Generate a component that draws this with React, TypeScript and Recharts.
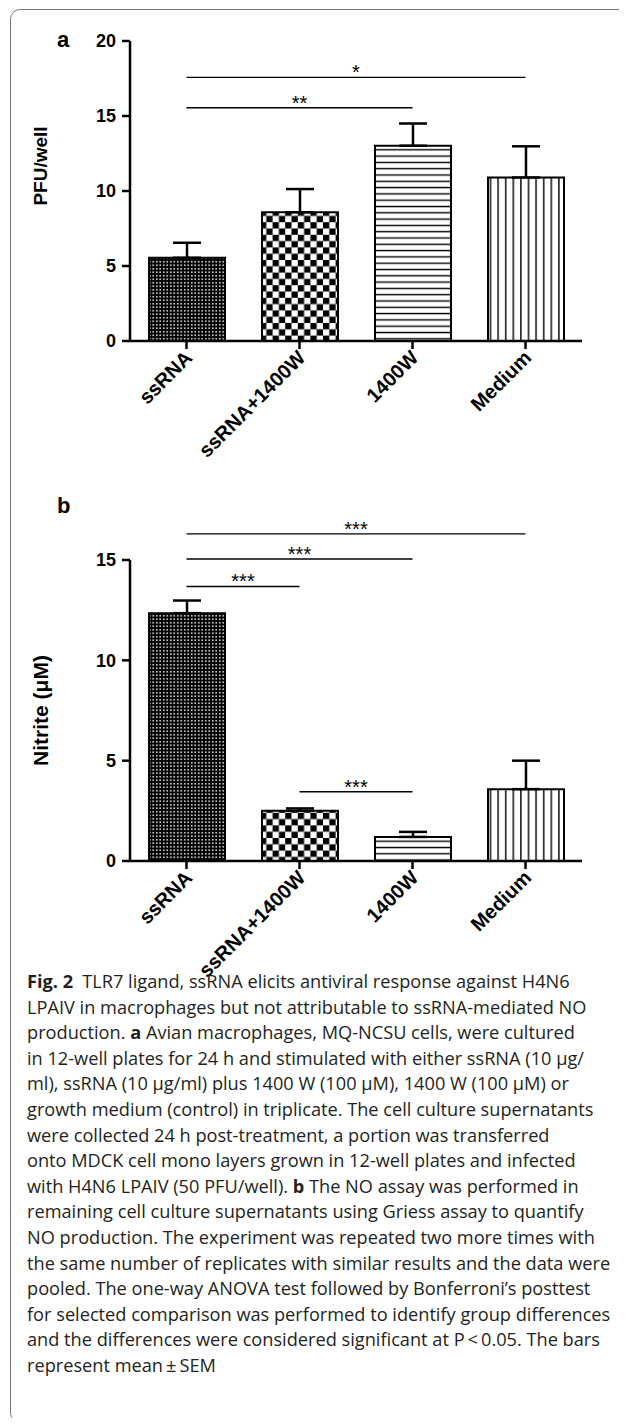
import { Bar, BarChart, Cell, ErrorBar, ReferenceLine, XAxis, YAxis } from 'recharts';

const groups = ['ssRNA', 'ssRNA+1400W', '1400W', 'Medium'];

// panel a: PFU/well
const pfuMean = [5.55, 8.58, 13.02, 10.9];
const pfuSem = [1.0, 1.55, 1.48, 2.08];
const pfuTicks = [0, 5, 10, 15, 20];
const pfuBrackets = [
  { from: 'ssRNA', to: 'Medium', y: 17.58, mark: '*' },
  { from: 'ssRNA', to: '1400W', y: 15.55, mark: '**' },
];

// panel b: nitrite
const nitriteMean = [12.35, 2.5, 1.2, 3.58];
const nitriteSem = [0.63, 0.12, 0.25, 1.42];
const nitriteTicks = [0, 5, 10, 15];
const nitriteBrackets = [
  { from: 'ssRNA', to: 'Medium', y: 16.3, mark: '***' },
  { from: 'ssRNA', to: '1400W', y: 15.05, mark: '***' },
  { from: 'ssRNA', to: 'ssRNA+1400W', y: 13.68, mark: '***' },
  { from: 'ssRNA+1400W', to: '1400W', y: 3.45, mark: '***' },
];

const caption = [
  '**Fig. 2**\u2002TLR7 ligand, ssRNA elicits antiviral response against H4N6',
  'LPAIV in macrophages but not attributable to ssRNA-mediated NO',
  'production. **a** Avian macrophages, MQ-NCSU cells, were cultured',
  'in 12-well plates for 24 h and stimulated with either ssRNA (10 µg/',
  'ml), ssRNA (10 µg/ml) plus 1400 W (100 µM), 1400 W (100 µM) or',
  'growth medium (control) in triplicate. The cell culture supernatants',
  'were collected 24 h post-treatment, a portion was transferred',
  'onto MDCK cell mono layers grown in 12-well plates and infected',
  'with H4N6 LPAIV (50 PFU/well). **b** The NO assay was performed in',
  'remaining cell culture supernatants using Griess assay to quantify',
  'NO production. The experiment was repeated two more times with',
  'the same number of replicates with similar results and the data were',
  'pooled. The one-way ANOVA test followed by Bonferroni\u2019s posttest',
  'for selected comparison was performed to identify group differences',
  'and the differences were considered significant at P\u2009<\u20090.05. The bars',
  'represent mean\u2009\u00b1\u2009SEM',
];

const font = '"Liberation Sans", Arial, sans-serif';

const Patterns = ({ id }: { id: string }) => (
  <defs>
    <pattern id={`${id}-0`} width={3.5} height={3.5} patternUnits="userSpaceOnUse">
      <rect width={3.5} height={3.5} fill="#000" />
      <rect x={1} y={1} width={1.5} height={1.5} fill="#fff" />
    </pattern>
    <pattern id={`${id}-1`} width={12.6} height={12.6} patternUnits="userSpaceOnUse">
      <rect width={12.6} height={12.6} fill="#fff" />
      <rect width={6.3} height={6.3} fill="#000" />
      <rect x={6.3} y={6.3} width={6.3} height={6.3} fill="#000" />
    </pattern>
    <pattern id={`${id}-2`} width={10} height={6.3} patternUnits="userSpaceOnUse">
      <rect width={10} height={6.3} fill="#fff" />
      <rect y={2.5} width={10} height={1.4} fill="#000" />
    </pattern>
    <pattern id={`${id}-3`} width={7.6} height={10} patternUnits="userSpaceOnUse">
      <rect width={7.6} height={10} fill="#fff" />
      <rect x={3} width={1.4} height={10} fill="#000" />
    </pattern>
  </defs>
);

const SlantTick = ({ x, y, payload }: any) => (
  <g transform={`translate(${x + 7},${y + 8}) rotate(-45)`}>
    <text x={0} y={0} textAnchor="end" fontFamily={font} fontWeight="bold" fontSize={20} fill="#000">
      {payload.value}
    </text>
  </g>
);

const YTitle = ({ viewBox, text, shift, size }: any) => {
  const cx = viewBox.x - 30;
  const cy = viewBox.y + viewBox.height / 2 + shift;
  return (
    <text
      x={cx}
      y={cy}
      transform={`rotate(-90, ${cx}, ${cy})`}
      textAnchor="middle"
      dominantBaseline="central"
      fontFamily={font}
      fontWeight="bold"
      fontSize={size}
      fill="#000"
    >
      {text}
    </text>
  );
};

type Bracket = { from: string; to: string; y: number; mark: string };

const Panel = ({ id, mean, sem, ticks, brackets, title, titleShift, titleSize, height, top, bottom, xHeight }: {
  id: string; mean: number[]; sem: number[]; ticks: number[]; brackets: Bracket[];
  title: string; titleShift: number; titleSize: number; height: number; top: number; bottom: number; xHeight: number;
}) => {
  const data = groups.map((g, i) => ({ name: g, value: mean[i], err: [0, sem[i]] }));
  return (
    <BarChart width={619} height={height} data={data} margin={{ top, right: 45, left: 62, bottom }}>
      <Patterns id={id} />
      <XAxis
        dataKey="name"
        interval={0}
        height={xHeight}
        tick={<SlantTick />}
        tickSize={8}
        axisLine={{ stroke: '#000', strokeWidth: 2.5 }}
        tickLine={{ stroke: '#000', strokeWidth: 2.5 }}
      />
      <YAxis
        width={60}
        domain={[ticks[0], ticks[ticks.length - 1]]}
        ticks={ticks}
        tickSize={8}
        tickMargin={6}
        axisLine={{ stroke: '#000', strokeWidth: 2.5 }}
        tickLine={{ stroke: '#000', strokeWidth: 2.5 }}
        tick={{ fill: '#000', fontFamily: font, fontWeight: 'bold', fontSize: 18 }}
        label={<YTitle text={title} shift={titleShift} size={titleSize} />}
      />
      <Bar dataKey="value" barSize={76} stroke="#000" strokeWidth={2} isAnimationActive={false}>
        {groups.map((g, i) => (
          <Cell key={g} fill={`url(#${id}-${i})`} />
        ))}
        <ErrorBar dataKey="err" direction="y" width={14} stroke="#000" strokeWidth={2.5} isAnimationActive={false} />
      </Bar>
      {brackets.map((b) => (
        <ReferenceLine
          key={`${b.from}-${b.to}`}
          segment={[{ x: b.from, y: b.y }, { x: b.to, y: b.y }]}
          stroke="#000"
          strokeWidth={1.3}
          ifOverflow="visible"
          label={{ value: b.mark, position: 'top', offset: -2, fill: '#000', fontSize: 20, fontFamily: font }}
        />
      ))}
    </BarChart>
  );
};

const CaptionLine = ({ line }: { line: string }) => (
  <div style={{ whiteSpace: 'nowrap' }}>
    {line.split('**').map((part, i) => (
      <span key={i} style={{ fontWeight: i % 2 === 1 ? 700 : 400 }}>{part}</span>
    ))}
  </div>
);

export default function App() {
  return (
    <div style={{ position: 'relative', width: 619, height: 1418, marginBottom: -8, overflow: 'hidden', background: '#fff' }}>
      <div
        style={{
          position: 'absolute', left: 2, top: 1, width: 640, height: 1414,
          border: '1.5px solid #777', borderRadius: 10, boxSizing: 'border-box',
        }}
      />
      <div style={{ position: 'absolute', left: 0, top: 0 }}>
        <Panel id="pa" mean={pfuMean} sem={pfuSem} ticks={pfuTicks} brackets={pfuBrackets}
          title="PFU/well" titleShift={-25} titleSize={19} height={460} top={33} bottom={27} xHeight={100} />
      </div>
      <div style={{ position: 'absolute', left: 0, top: 452 }}>
        <Panel id="pb" mean={nitriteMean} sem={nitriteSem} ticks={nitriteTicks} brackets={nitriteBrackets}
          title="Nitrite (μM)" titleShift={0} titleSize={21} height={525} top={100} bottom={14} xHeight={110} />
      </div>
      <div style={{ position: 'absolute', left: 49, top: 21, fontFamily: font, fontWeight: 'bold', fontSize: 22, lineHeight: '22px' }}>a</div>
      <div style={{ position: 'absolute', left: 49, top: 487, fontFamily: font, fontWeight: 'bold', fontSize: 22, lineHeight: '22px' }}>b</div>
      <div
        style={{
          position: 'absolute', left: 19, top: 961, fontFamily: '"Open Sans", sans-serif', fontSize: 18.2,
          lineHeight: '25.6px', color: '#231f20',
        }}
      >
        {caption.map((line, i) => (
          <CaptionLine key={i} line={line} />
        ))}
      </div>
    </div>
  );
}
